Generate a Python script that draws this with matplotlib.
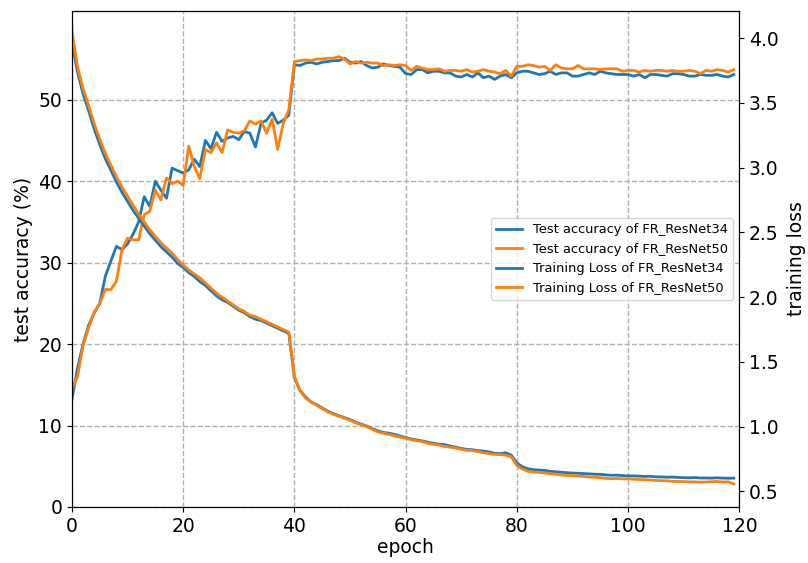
import numpy as np
import matplotlib
matplotlib.use("Agg")
import matplotlib.pyplot as plt

# Data (epochs 0..119)
epochs = np.arange(120)

acc_resnet34 = [
    13.2, 17.0, 20.0, 22.3, 23.8, 25.0, 28.3, 30.2, 32.0, 31.6,
    32.3, 33.5, 35.0, 38.1, 36.9, 40.0, 38.9, 37.9, 41.6, 41.3,
    41.0, 41.4, 42.7, 41.8, 45.0, 44.0, 46.0, 44.9, 45.3, 45.5,
    45.1, 46.1, 45.9, 44.2, 47.1, 47.5, 48.4, 47.1, 47.5, 48.1,
    54.3, 54.2, 54.5, 54.6, 54.4, 54.6, 54.7, 54.8, 54.8, 55.1,
    54.6, 54.5, 54.7, 54.2, 53.9, 54.0, 54.4, 54.2, 54.1, 54.0,
    53.2, 53.1, 53.7, 53.7, 53.3, 53.5, 53.5, 53.3, 53.3, 52.9,
    52.8, 53.1, 52.8, 53.3, 52.7, 52.9, 52.5, 52.9, 53.1, 52.7,
    53.3, 53.5, 53.5, 53.3, 53.1, 53.2, 53.5, 53.1, 53.3, 53.3,
    52.9, 52.9, 53.1, 53.3, 53.1, 53.5, 53.3, 53.2, 53.1, 53.1,
    53.1, 52.9, 53.1, 52.7, 53.1, 53.1, 53.0, 52.9, 53.2, 53.2,
    53.1, 52.9, 52.9, 53.1, 53.0, 53.0, 53.1, 52.9, 52.8, 53.1,
]

acc_resnet50 = [
    14.5, 16.0, 19.8, 22.0, 23.9, 25.0, 26.7, 26.7, 27.7, 31.6,
    33.0, 32.8, 32.8, 35.9, 36.3, 38.9, 37.7, 40.4, 39.7, 40.0,
    39.5, 44.3, 41.8, 40.3, 43.9, 43.5, 44.7, 43.5, 46.3, 46.0,
    45.9, 46.2, 47.4, 47.0, 47.4, 45.9, 47.6, 43.9, 47.1, 48.8,
    54.7, 54.8, 54.9, 54.8, 55.0, 55.0, 55.1, 55.1, 55.3, 55.0,
    54.4, 54.7, 54.5, 54.6, 54.5, 54.5, 54.2, 54.3, 54.2, 54.3,
    54.2, 53.6, 54.1, 53.9, 53.7, 53.7, 53.8, 53.5, 53.6, 53.6,
    53.5, 53.7, 53.4, 53.5, 53.7, 53.5, 53.4, 53.2, 53.6, 52.9,
    54.1, 54.1, 54.3, 54.2, 54.0, 54.1, 53.6, 54.3, 53.9, 53.8,
    53.8, 54.2, 53.8, 53.8, 53.8, 53.7, 53.8, 53.8, 53.8, 53.5,
    53.6, 53.6, 53.4, 53.6, 53.5, 53.6, 53.6, 53.5, 53.6, 53.5,
    53.5, 53.6, 53.5, 53.2, 53.6, 53.5, 53.7, 53.6, 53.4, 53.7,
]

loss_resnet34 = [
    3.97, 3.74, 3.57, 3.44, 3.30, 3.18, 3.07, 2.98, 2.89, 2.81,
    2.74, 2.67, 2.61, 2.55, 2.49, 2.44, 2.39, 2.35, 2.31, 2.26,
    2.23, 2.19, 2.16, 2.12, 2.09, 2.05, 2.01, 1.98, 1.96, 1.93,
    1.90, 1.88, 1.85, 1.83, 1.82, 1.80, 1.78, 1.76, 1.74, 1.72,
    1.38, 1.28, 1.23, 1.19, 1.17, 1.145, 1.12, 1.10, 1.085, 1.07,
    1.055, 1.035, 1.02, 1.005, 0.985, 0.968, 0.955, 0.95, 0.94, 0.928,
    0.915, 0.905, 0.898, 0.89, 0.88, 0.872, 0.865, 0.862, 0.85, 0.842,
    0.832, 0.825, 0.822, 0.815, 0.812, 0.805, 0.795, 0.792, 0.798, 0.78,
    0.72, 0.69, 0.675, 0.668, 0.665, 0.662, 0.655, 0.652, 0.648, 0.645,
    0.642, 0.64, 0.638, 0.636, 0.633, 0.632, 0.628, 0.625, 0.626, 0.622,
    0.62, 0.62, 0.618, 0.616, 0.617, 0.613, 0.612, 0.61, 0.611, 0.608,
    0.606, 0.605, 0.607, 0.604, 0.604, 0.603, 0.605, 0.603, 0.602, 0.603,
]

loss_resnet50 = [
    4.06, 3.78, 3.61, 3.48, 3.34, 3.22, 3.11, 3.02, 2.93, 2.85,
    2.78, 2.71, 2.64, 2.58, 2.52, 2.47, 2.42, 2.38, 2.34, 2.29,
    2.25, 2.21, 2.18, 2.15, 2.11, 2.07, 2.03, 2.00, 1.97, 1.94,
    1.91, 1.89, 1.86, 1.85, 1.83, 1.81, 1.79, 1.77, 1.75, 1.73,
    1.39, 1.28, 1.22, 1.19, 1.165, 1.14, 1.115, 1.095, 1.08, 1.065,
    1.05, 1.03, 1.015, 1.0, 0.98, 0.96, 0.95, 0.94, 0.93, 0.92,
    0.91, 0.90, 0.892, 0.885, 0.872, 0.865, 0.858, 0.848, 0.842, 0.835,
    0.826, 0.818, 0.815, 0.808, 0.80, 0.792, 0.786, 0.785, 0.78, 0.768,
    0.70, 0.672, 0.656, 0.65, 0.647, 0.643, 0.638, 0.634, 0.628, 0.624,
    0.622, 0.62, 0.615, 0.612, 0.61, 0.607, 0.601, 0.598, 0.60, 0.597,
    0.597, 0.594, 0.592, 0.59, 0.588, 0.585, 0.583, 0.582, 0.578, 0.577,
    0.576, 0.574, 0.574, 0.572, 0.573, 0.575, 0.577, 0.573, 0.575, 0.558,
]

x_ticks = [0, 20, 40, 60, 80, 100, 120]
acc_ticks = [0, 10, 20, 30, 40, 50]
loss_ticks = [0.5, 1.0, 1.5, 2.0, 2.5, 3.0, 3.5, 4.0]

fig = plt.figure(figsize=(8.08, 5.63), dpi=100)
ax1 = fig.add_axes([0.089, 0.0995, 0.826, 0.881])
ax2 = ax1.twinx()

l1, = ax1.plot(epochs, acc_resnet34, color="#1f77b4", linewidth=2, label="Test accuracy of FR_ResNet34")
l2, = ax1.plot(epochs, acc_resnet50, color="#ff7f0e", linewidth=2, label="Test accuracy of FR_ResNet50")
l3, = ax2.plot(epochs, loss_resnet34, color="#1f77b4", linewidth=2, label="Training Loss of FR_ResNet34")
l4, = ax2.plot(epochs, loss_resnet50, color="#ff7f0e", linewidth=2, label="Training Loss of FR_ResNet50")

ax1.set_xlim(0, 120)
ax1.set_ylim(0, 60.9)
ax2.set_ylim(0.38, 4.21)
ax1.set_xticks(x_ticks)
ax1.set_yticks(acc_ticks)
ax2.set_yticks(loss_ticks)

ax1.set_xlabel("epoch", fontsize=13.5, labelpad=2)
ax1.set_ylabel("test accuracy (%)", fontsize=13.5, labelpad=4)
ax2.set_ylabel("training loss", fontsize=13.5, labelpad=6)
ax1.tick_params(labelsize=13.5)
ax2.tick_params(labelsize=13.5)

ax1.grid(True, linestyle="--", color="#b0b0b0", linewidth=1)

ax2.legend(handles=[l1, l2, l3, l4], loc="center right", fontsize=9.4)

fig.savefig("out.png", dpi=100)
